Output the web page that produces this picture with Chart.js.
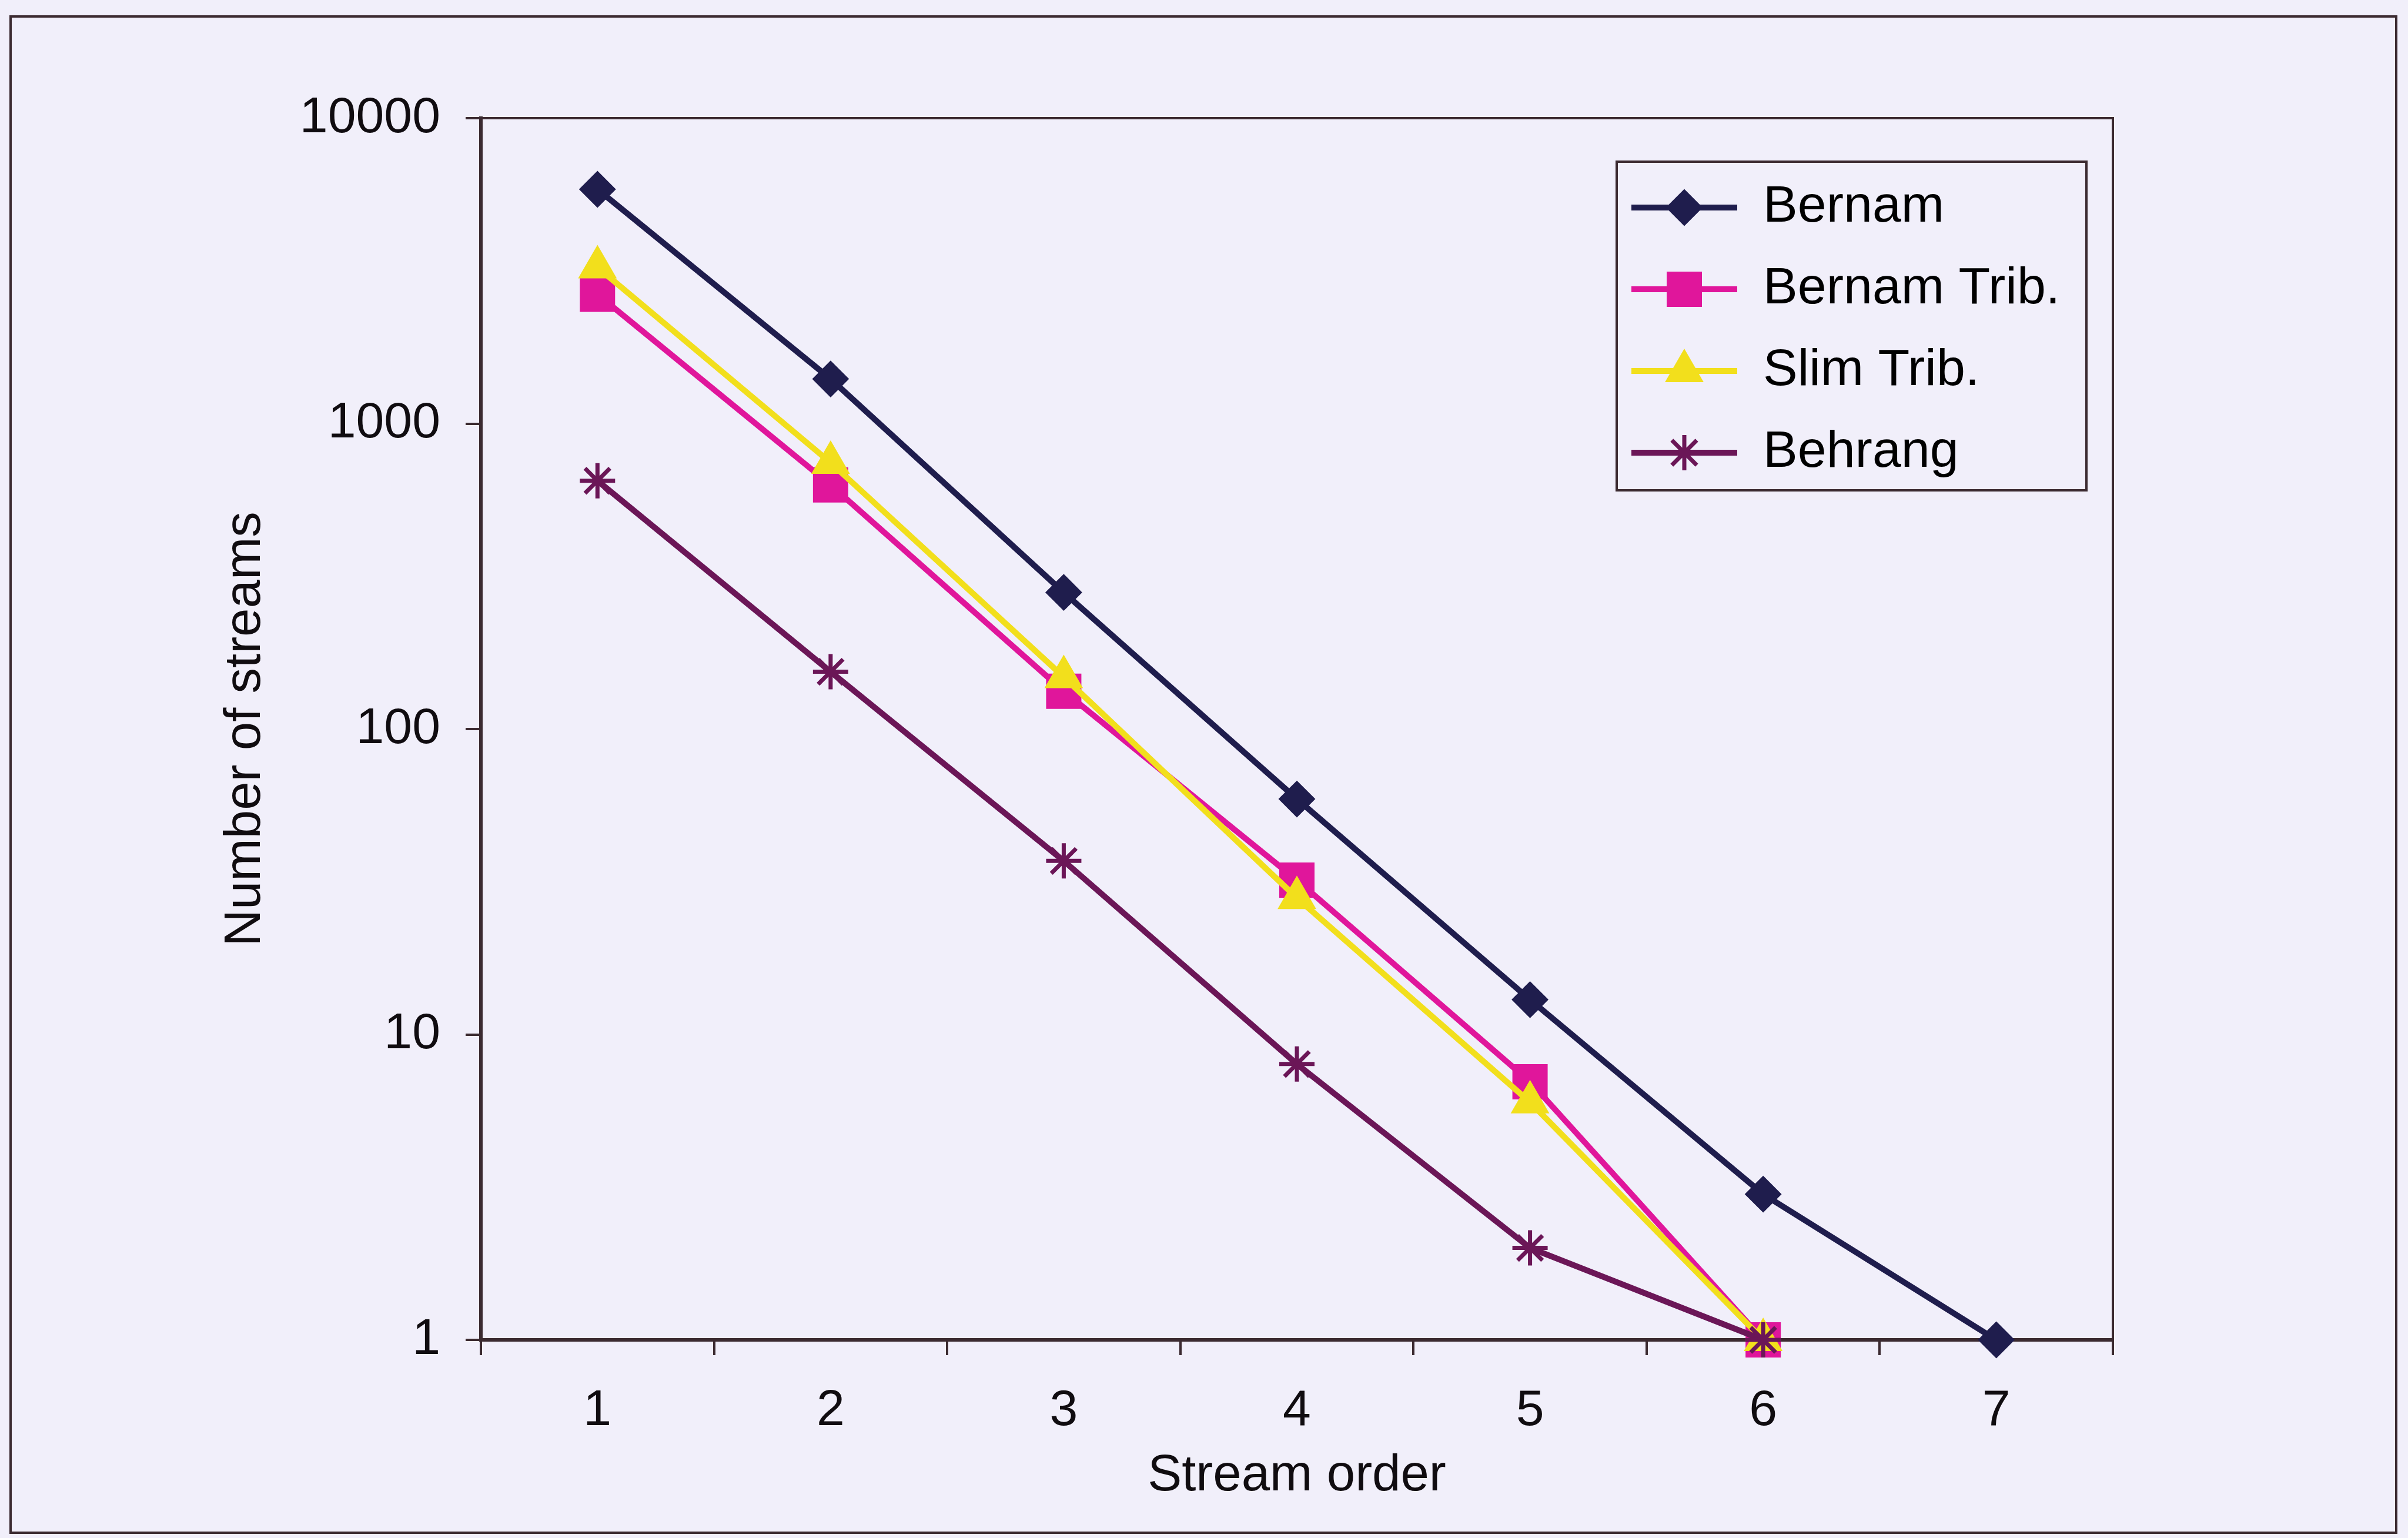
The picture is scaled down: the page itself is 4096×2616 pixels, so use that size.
<!DOCTYPE html>
<html>
<head>
<meta charset="utf-8">
<script src="https://cdn.jsdelivr.net/npm/chart.js"></script>
<style>
html,body{margin:0;padding:0;background:#f1effa;overflow:hidden}
canvas{display:block}
</style>
</head>
<body>
<canvas id="c" width="4096" height="2616"></canvas>
<script>
// ---------- data ----------
const categories   = ['1', '2', '3', '4', '5', '6', '7'];
const seriesNames  = ['Bernam', 'Bernam Trib.', 'Slim Trib.', 'Behrang'];
const bernam       = [5850, 1400, 280, 59, 13, 3, 1];
const bernamTrib   = [2650, 630, 133, 32, 7, 1, null];
const slimTrib     = [3250, 745, 148, 28, 6, 1, null];
const behrang      = [650, 154, 37, 8, 2, 1, null];
const yTickValues  = [1, 10, 100, 1000, 10000];
const yTickLabels  = ['1', '10', '100', '1000', '10000'];
const xTitle = 'Stream order';
const yTitle = 'Number of streams';

// ---------- styling / layout ----------
const W = 4096, H = 2616;
const FONT = '"Liberation Sans", Arial, sans-serif';
const BG = '#f1effa';
const AXIS = '#3b2a30';
const TEXT = '#100c10';
const PLOT = { left: 818, top: 201, right: 3594, bottom: 2279 };
const OUTER = { left: 18, top: 28, right: 4076, bottom: 2607 };
const LEGEND_FRAME = { left: 2750, top: 275, right: 3549, bottom: 834 };
const LEGEND_FONT = 88, LEGEND_PAD = 51, LEGEND_LINE = 180;
const LEGEND_ORIGIN = { left: 2724, top: 258 };

const styles = [
  { color: '#1f1d4d', point: 'rectRot',  r: 30, bw: 2 },
  { color: '#e0169b', point: 'rect',     r: 41, bw: 2 },
  { color: '#f2df1c', point: 'triangle', r: 36, bw: 2 },
  { color: '#6b1657', point: 'star',     r: 30, bw: 7 }
];
const seriesData = [bernam, bernamTrib, slimTrib, behrang];

function fallbackPoint(ctx, style, r, x, y) {
  ctx.beginPath();
  if (style === 'rectRot') {
    ctx.moveTo(x - r, y); ctx.lineTo(x, y - r); ctx.lineTo(x + r, y); ctx.lineTo(x, y + r); ctx.closePath();
    ctx.fill(); ctx.stroke();
  } else if (style === 'rect') {
    const s = r * Math.SQRT1_2; ctx.rect(x - s, y - s, 2 * s, 2 * s); ctx.fill(); ctx.stroke();
  } else if (style === 'triangle') {
    ctx.moveTo(x, y - r);
    ctx.lineTo(x + r * Math.sin(2 * Math.PI / 3), y - r * Math.cos(2 * Math.PI / 3));
    ctx.lineTo(x + r * Math.sin(4 * Math.PI / 3), y - r * Math.cos(4 * Math.PI / 3));
    ctx.closePath(); ctx.fill(); ctx.stroke();
  } else {
    const d = r * Math.SQRT1_2;
    ctx.moveTo(x, y - r); ctx.lineTo(x, y + r);
    ctx.moveTo(x - r, y); ctx.lineTo(x + r, y);
    ctx.moveTo(x - d, y - d); ctx.lineTo(x + d, y + d);
    ctx.moveTo(x - d, y + d); ctx.lineTo(x + d, y - d);
    ctx.stroke();
  }
}
function drawMarker(ctx, st, x, y) {
  ctx.save();
  ctx.fillStyle = st.color; ctx.strokeStyle = st.color; ctx.lineWidth = st.bw;
  if (Chart.helpers && typeof Chart.helpers.drawPoint === 'function') {
    Chart.helpers.drawPoint(ctx, { pointStyle: st.point, radius: st.r, rotation: 0, borderWidth: st.bw }, x, y);
  } else {
    fallbackPoint(ctx, st.point, st.r, x, y);
  }
  ctx.restore();
}

const framePlugin = {
  id: 'frames',
  beforeDraw(chart) {
    const ctx = chart.ctx;
    ctx.save();
    ctx.fillStyle = BG;
    ctx.fillRect(0, 0, W, H);
    ctx.strokeStyle = AXIS;
    ctx.lineWidth = 4;
    ctx.strokeRect(OUTER.left, OUTER.top, OUTER.right - OUTER.left, OUTER.bottom - OUTER.top);
    ctx.lineWidth = 4;
    ctx.strokeRect(LEGEND_FRAME.left, LEGEND_FRAME.top, LEGEND_FRAME.right - LEGEND_FRAME.left, LEGEND_FRAME.bottom - LEGEND_FRAME.top);
    ctx.restore();
  },
  afterLayout(chart) {
    const lg = chart.legend;
    if (lg) {
      const w = lg.width, h = lg.height;
      lg.left = LEGEND_ORIGIN.left; lg.top = LEGEND_ORIGIN.top;
      lg.right = lg.left + w; lg.bottom = lg.top + h;
    }
  },
  beforeDatasetsDraw(chart) {
    const a = chart.chartArea, ctx = chart.ctx;
    ctx.save();
    ctx.strokeStyle = AXIS;
    ctx.lineWidth = 4;
    ctx.beginPath();
    ctx.moveTo(a.left, a.top); ctx.lineTo(a.right, a.top); ctx.lineTo(a.right, a.bottom);
    ctx.stroke();
    ctx.restore();
  },
  afterDraw(chart) {
    const lg = chart.legend;
    if (!lg) return;
    const ctx = chart.ctx;
    styles.forEach((st, i) => {
      const cx = lg.left + LEGEND_PAD + LEGEND_LINE / 2;
      const cy = lg.top + LEGEND_PAD + i * (LEGEND_FONT + LEGEND_PAD) + LEGEND_FONT / 2;
      drawMarker(ctx, st, cx, cy);
    });
  }
};

const datasets = seriesNames.map((name, i) => ({
  label: name,
  data: seriesData[i],
  borderColor: styles[i].color,
  backgroundColor: styles[i].color,
  borderWidth: 10,
  pointStyle: styles[i].point,
  pointRadius: styles[i].r,
  pointHoverRadius: styles[i].r,
  pointBorderWidth: styles[i].bw,
  pointBackgroundColor: styles[i].color,
  pointBorderColor: styles[i].color,
  tension: 0,
  fill: false,
  clip: false,
  spanGaps: false,
  order: seriesNames.length - i
}));

new Chart(document.getElementById('c'), {
  type: 'line',
  data: { labels: categories, datasets },
  plugins: [framePlugin],
  options: {
    responsive: false,
    animation: false,
    devicePixelRatio: 1,
    events: [],
    layout: { padding: { left: 0, top: PLOT.top, right: W - PLOT.right, bottom: 0 } },
    plugins: {
      tooltip: { enabled: false },
      title: { display: false },
      legend: {
        display: true,
        position: 'chartArea',
        align: 'start',
        labels: {
          boxWidth: LEGEND_LINE,
          boxHeight: 10,
          padding: LEGEND_PAD,
          color: TEXT,
          font: { family: FONT, size: LEGEND_FONT },
          generateLabels: (chart) => chart.data.datasets.map((ds, i) => ({
            text: ds.label,
            fillStyle: ds.borderColor,
            strokeStyle: ds.borderColor,
            lineWidth: 0,
            hidden: false,
            datasetIndex: i
          }))
        }
      }
    },
    scales: {
      x: {
        type: 'category',
        offset: true,
        afterFit: (s) => { s.height = H - PLOT.bottom; },
        grid: { display: true, offset: true, drawOnChartArea: false, drawTicks: true, tickLength: 26, color: AXIS, lineWidth: 4 },
        border: { display: true, color: AXIS, width: 6 },
        ticks: { color: TEXT, font: { family: FONT, size: 86 }, padding: 44, autoSkip: false, maxRotation: 0 },
        title: { display: true, text: xTitle, color: TEXT, font: { family: FONT, size: 87 }, padding: { top: 0, bottom: 53 } }
      },
      y: {
        type: 'logarithmic',
        min: yTickValues[0],
        max: yTickValues[yTickValues.length - 1],
        afterBuildTicks: (s) => { s.ticks = yTickValues.map(v => ({ value: v })); },
        afterFit: (s) => { s.width = PLOT.left; },
        grid: { display: true, drawOnChartArea: false, drawTicks: true, tickLength: 26, color: AXIS, lineWidth: 4 },
        border: { display: true, color: AXIS, width: 6 },
        ticks: { color: TEXT, font: { family: FONT, size: 86 }, padding: 43,
                 callback: (v, idx) => yTickLabels[idx] },
        title: { display: true, text: yTitle, color: TEXT, font: { family: FONT, size: 87 }, padding: { top: 366, bottom: 0 } }
      }
    }
  }
});
</script>
</body>
</html>
